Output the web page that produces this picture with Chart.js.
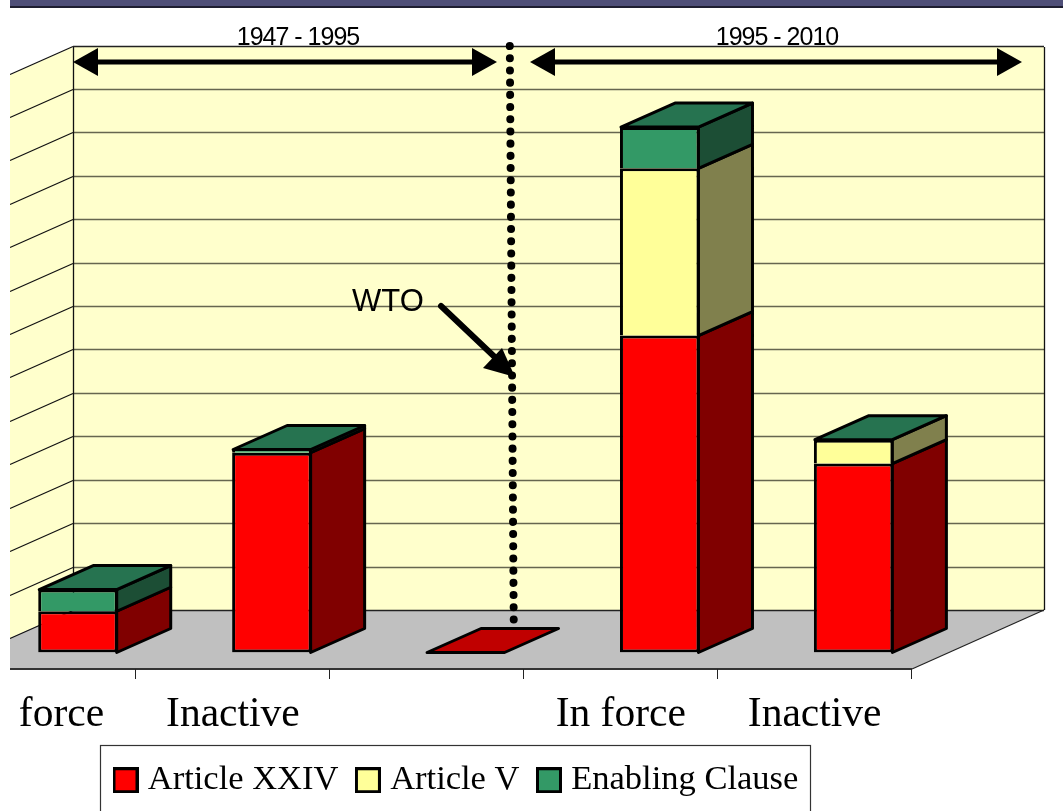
<!DOCTYPE html>
<html><head><meta charset="utf-8">
<script src="https://cdn.jsdelivr.net/npm/chart.js@4/dist/chart.umd.min.js"></script>
<style>html,body{margin:0;padding:0;background:#fff;overflow:hidden}#w{width:1063px;height:811px;position:relative;overflow:hidden}#c{position:absolute;left:-40px;top:0}</style>
</head><body><div id="w"><canvas id="c" width="1103" height="811"></canvas></div>
<script>
const categories = ["In force", "Inactive", "", "In force", "Inactive"];
const articleXXIV = [19, 92, 0, 146, 87];
const articleV = [null, null, null, 77, 11];
const enablingClause = [10, 1.5, null, 19, 0];
const seriesNames = ["Article XXIV", "Article V", "Enabling Clause"];
const frontColors = ["#FF0000", "#FFFF99", "#339966"];
const sideColors = ["#800000", "#80804D", "#1C4E35"];
const topColors = ["#C00000", "#C0C073", "#267350"];
const yMax = 260, yStep = 20;
const periodLabels = ["1947 - 1995", "1995 - 2010"];
const noteLabel = "WTO";

const OFF = 40;                  // the canvas starts this far left of the page
const DX = 54, DY = 24;          // bar depth
const BACK_X = 73, BACK_R = 1044, BACK_T = 47, BACK_B = 610;
const FRONT_Y = 669, FRONT_R = 912, CLIP_X = 10;
const WALL_SLOPE = 28 / 63;

function poly(ctx, pts, fill, stroke, lw) {
  ctx.beginPath();
  pts.forEach((p, i) => i ? ctx.lineTo(p[0], p[1]) : ctx.moveTo(p[0], p[1]));
  ctx.closePath();
  if (fill) { ctx.fillStyle = fill; ctx.fill(); }
  if (stroke) { ctx.strokeStyle = stroke; ctx.lineWidth = lw; ctx.lineJoin = 'round'; ctx.stroke(); }
}
function line(ctx, x1, y1, x2, y2, color, lw) {
  ctx.beginPath(); ctx.moveTo(x1, y1); ctx.lineTo(x2, y2);
  ctx.strokeStyle = color; ctx.lineWidth = lw; ctx.stroke();
}
function dblArrow(ctx, x1, x2, y) {
  line(ctx, x1 + 20, y, x2 - 20, y, '#000', 5);
  poly(ctx, [[x1, y], [x1 + 25, y - 14], [x1 + 25, y + 14]], '#000');
  poly(ctx, [[x2, y], [x2 - 25, y - 14], [x2 - 25, y + 14]], '#000');
}
function swatch(color) {
  const s = document.createElement('canvas');
  s.width = 26; s.height = 26;
  const g = s.getContext('2d');
  g.fillStyle = color; g.fillRect(0, 0, 26, 26);
  g.strokeStyle = '#000'; g.lineWidth = 3; g.strokeRect(1.5, 1.5, 23, 23);
  return s;
}
const swatches = frontColors.map(swatch);

const scene = {
  id: 'scene',
  afterLayout(chart) {
    const l = chart.legend;
    const w = l.right - l.left;
    l.left = OFF + 96; l.right = OFF + 96 + w;
    const h = l.bottom - l.top;
    l.top = 738.5; l.bottom = 738.5 + h;
  },
  beforeDraw(chart) {
    const ctx = chart.ctx, y = chart.scales.y;
    ctx.save();
    ctx.fillStyle = '#fff'; ctx.fillRect(0, 0, 1103, 811);
    ctx.translate(OFF, 0);
    // title band
    ctx.fillStyle = '#4F4F78'; ctx.fillRect(CLIP_X, 0, 1053, 6);
    ctx.fillStyle = '#1E1E30'; ctx.fillRect(CLIP_X, 6, 1053, 2);
    const leftDrop = (BACK_X - CLIP_X) * WALL_SLOPE;
    // left wall, back wall, floor
    poly(ctx, [[BACK_X, BACK_T], [CLIP_X, BACK_T + leftDrop], [CLIP_X, BACK_B + leftDrop], [BACK_X, BACK_B]], '#FFFFCC');
    poly(ctx, [[BACK_X, BACK_T], [BACK_R, BACK_T], [BACK_R, BACK_B], [BACK_X, BACK_B]], '#FFFFCC');
    poly(ctx, [[BACK_X, BACK_B], [BACK_R, BACK_B], [FRONT_R, FRONT_Y], [CLIP_X, FRONT_Y], [CLIP_X, BACK_B + leftDrop]], '#C0C0C0');
    // gridlines from the value scale
    const backShift = y.getPixelForValue(0) - BACK_B;
    y.ticks.forEach(t => {
      const py = Math.round(y.getPixelForValue(t.value) - backShift) + 0.5;
      const edge = t.value === 0 || t.value === yMax;
      line(ctx, BACK_X, py, BACK_R, py, edge ? '#222' : '#66664F', 1.5);
      line(ctx, BACK_X, py, CLIP_X, py + leftDrop, '#111', 1.3);
    });
    line(ctx, BACK_X + .5, BACK_T, BACK_X + .5, BACK_B, '#111', 1.3);
    line(ctx, BACK_R + .5, BACK_T, BACK_R + .5, BACK_B, '#111', 1.3);
    line(ctx, BACK_R, BACK_B, FRONT_R, FRONT_Y, '#222', 1.2);
    line(ctx, CLIP_X, FRONT_Y, FRONT_R, FRONT_Y, '#333', 2);
    // tick marks at the band edges
    const x = chart.scales.x;
    const band = x.getPixelForValue(1) - x.getPixelForValue(0);
    categories.forEach((c, i) => {
      const px = Math.round(x.getPixelForValue(i) - OFF + band / 2 - 40) + .5;
      line(ctx, px, FRONT_Y, px, FRONT_Y + 10, '#222', 1);
    });
    // legend frame
    ctx.strokeStyle = '#333'; ctx.lineWidth = 1.2;
    ctx.strokeRect(100.5, 745.5, 710, 80);
    ctx.restore();
  },
  beforeDatasetsDraw(chart) {
    const ctx = chart.ctx, x = chart.scales.x, y = chart.scales.y;
    ctx.save();
    // WTO divider
    const px = x.getPixelForValue(2) + 46;
    ctx.beginPath();
    ctx.moveTo(px - 2, BACK_T - 1);
    ctx.lineTo(px + 2, y.getPixelForValue(0) - DY + 2);
    ctx.setLineDash([0.1, 12.1]); ctx.lineCap = 'round';
    ctx.strokeStyle = '#000'; ctx.lineWidth = 8; ctx.stroke();
    ctx.restore();
  },
  afterDatasetsDraw(chart) {
    const ctx = chart.ctx;
    ctx.save();
    const n = categories.length;
    for (let i = 0; i < n; i++) {
      let topIdx = 0;
      chart.data.datasets.forEach((ds, d) => {
        if (ds.data[i] === null) return;
        topIdx = d;
        if (ds.data[i] > 0) {
          const el = chart.getDatasetMeta(d).data[i];
          const r = el.x + el.width / 2 - 1;
          poly(ctx, [[r, el.y], [r + DX, el.y - DY], [r + DX, el.base - DY], [r, el.base]], sideColors[d], '#000', 3);
        }
      });
      const el = chart.getDatasetMeta(topIdx).data[i];
      const l = el.x - el.width / 2 + 1, r = el.x + el.width / 2 - 1;
      poly(ctx, [[l, el.y], [l + DX, el.y - DY], [r + DX, el.y - DY], [r, el.y]], topColors[topIdx], '#000', 3);
    }
    ctx.translate(OFF, 0);
    // period arrows and labels
    dblArrow(ctx, BACK_X, 497, 62);
    dblArrow(ctx, 530, 1022, 62);
    ctx.fillStyle = '#000';
    ctx.font = '25px "Liberation Sans"';
    ctx.textAlign = 'center'; ctx.textBaseline = 'alphabetic';
    ctx.letterSpacing = '-1px';
    ctx.fillText(periodLabels[0], 298, 45);
    ctx.fillText(periodLabels[1], 777, 45);
    ctx.letterSpacing = '0px';
    ctx.font = '31px "Liberation Sans"';
    ctx.textAlign = 'left';
    ctx.fillText(noteLabel, 352, 311);
    // WTO arrow
    ctx.lineCap = 'round';
    line(ctx, 441, 306, 500, 362, '#000', 6);
    poly(ctx, [[515, 377], [483, 368], [502, 348]], '#000');
    ctx.restore();
  },
  afterDraw(chart) {
    const ctx = chart.ctx;
    ctx.fillStyle = '#fff';
    ctx.fillRect(0, 0, OFF + CLIP_X, 811);
  }
};

new Chart(document.getElementById('c'), {
  type: 'bar',
  data: {
    labels: categories,
    datasets: [articleXXIV, articleV, enablingClause].map((values, i) => ({
      label: seriesNames[i],
      data: values,
      backgroundColor: frontColors[i],
      borderColor: '#000',
      borderWidth: 3,
      borderSkipped: i === 0 ? false : 'bottom',
      barPercentage: 0.41,
      categoryPercentage: 1
    }))
  },
  options: {
    responsive: false,
    animation: false,
    devicePixelRatio: 1,
    layout: { autoPadding: false, padding: { left: 21, right: 112.4, top: 88, bottom: 0 } },
    scales: {
      x: {
        stacked: true,
        grid: { display: false },
        border: { display: false },
        afterFit(s) { s.height = 158.5 - (s.chart.legend ? s.chart.legend.height : 0); },
        ticks: {
          autoSkip: false, maxRotation: 0, minRotation: 0,
          labelOffset: -39, padding: 30, color: '#000',
          font: { family: '"Liberation Serif"', size: 41.5 }
        }
      },
      y: {
        stacked: true, display: false, min: 0, max: yMax,
        ticks: { stepSize: yStep }
      }
    },
    plugins: {
      tooltip: { enabled: false },
      legend: {
        display: true, position: 'bottom', align: 'start',
        labels: {
          usePointStyle: true, boxWidth: 10, boxHeight: 10, padding: 24.5, color: '#000',
          font: { family: '"Liberation Serif"', size: 34.5 },
          generateLabels(chart) {
            const items = Chart.defaults.plugins.legend.labels.generateLabels(chart);
            items.forEach((it, i) => { it.pointStyle = swatches[i]; });
            return items;
          }
        }
      }
    }
  },
  plugins: [scene]
});
</script></body></html>
